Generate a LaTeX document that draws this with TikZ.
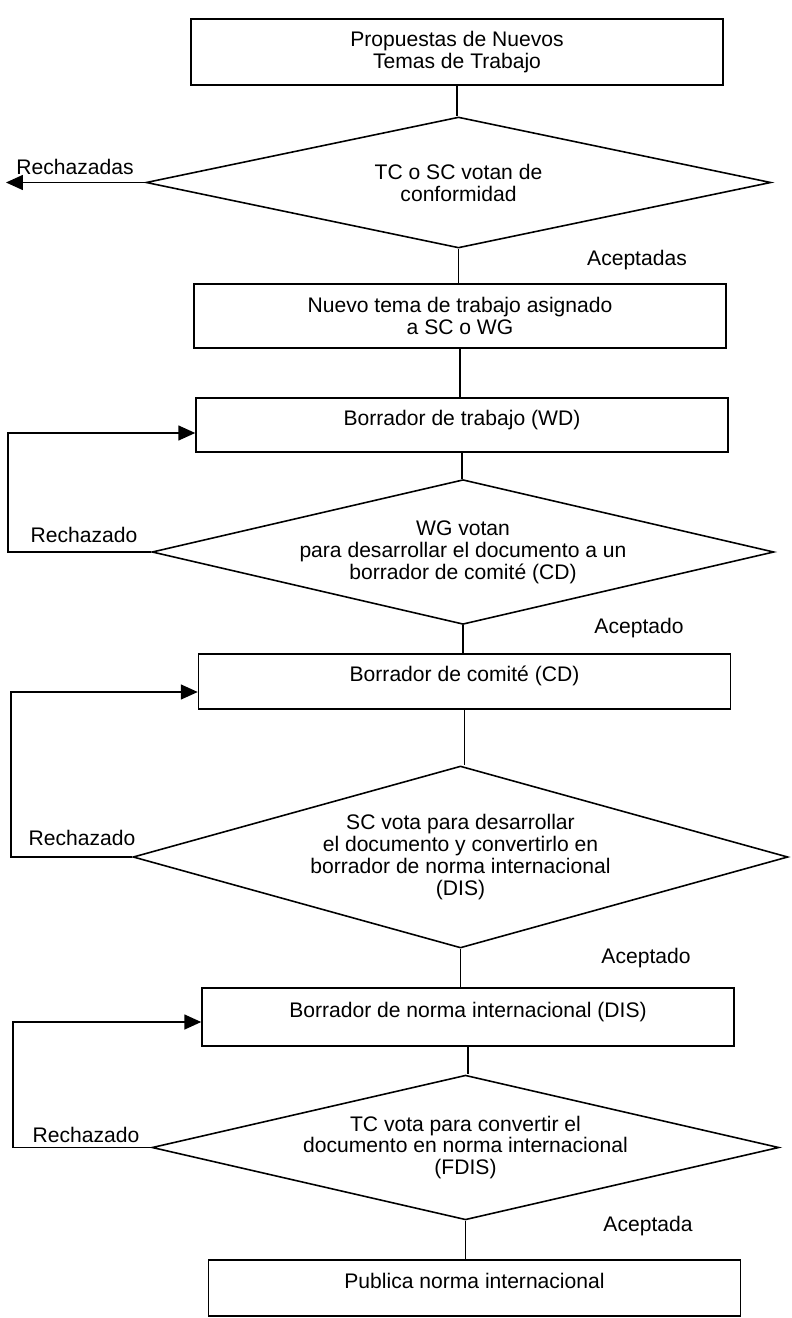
\documentclass[tikz,border=0pt]{standalone}
\usepackage{fontspec}
\setmainfont{Liberation Sans}
\usepackage{tikz}
\usetikzlibrary{shapes.geometric,arrows.meta}

\begin{document}
\begin{tikzpicture}[x=0.02cm,y=-0.02cm,line width=0.9pt,
  every node/.style={font=\fontsize{12}{12.5}\selectfont},
  caja/.style={draw,rectangle,minimum width=10.64cm,inner sep=0pt,align=center},
  alta/.style={text depth=0.3cm},
  rombo/.style={draw,diamond,aspect=4,inner sep=0pt,align=center},
  flecha/.style={-{Triangle[length=0.34cm,width=0.3cm]}}]
\useasboundingbox (0,0) rectangle (791,1318);
\node [caja,minimum height=1.32cm] (prop) at (457,52) {Propuestas de Nuevos\\Temas de Trabajo};
\node [rombo,minimum width=12.5cm,minimum height=2.62cm] (vote1) at (458.5,182.5) {TC o SC votan de\\conformidad};
\node [caja,minimum height=1.28cm] (asig) at (460,316) {Nuevo tema de trabajo asignado\\a SC o WG};
\node [caja,alta,minimum height=1.08cm] (wd) at (462,425) {Borrador de trabajo (WD)};
\node [rombo,minimum width=12.44cm,minimum height=2.78cm] (vote2) at (463,552) {WG votan\\para desarrollar el documento a un\\borrador de comité (CD)};
\node [caja,alta,minimum height=1.1cm] (cd) at (464.5,681.5) {Borrador de comité (CD)};
\node [rombo,minimum width=13.1cm,minimum height=3.64cm] (vote3) at (460.5,857) {SC vota para desarrollar\\el documento y convertirlo en\\borrador de norma internacional\\(DIS)};
\node [caja,alta,minimum height=1.16cm] (dis) at (468,1017) {Borrador de norma internacional (DIS)};
\node [rombo,minimum width=12.54cm,minimum height=2.78cm] (vote4) at (465.5,1147.5) {TC vota para convertir el\\documento en norma internacional\\(FDIS)};
\node [caja,alta,minimum height=1.12cm] (pub) at (474.5,1288) {Publica norma internacional};

\foreach \a/\b in {prop/vote1,vote1/asig,asig/wd,wd/vote2,vote2/cd,cd/vote3,vote3/dis,dis/vote4,vote4/pub}
  {  \draw (\a.south) -- (\a.south |- \b.north);}

\coordinate (rech) at (6,182.5);
\draw [flecha] (vote1.west) -- (rech);

\coordinate (r2) at (8,433);
\coordinate (r3) at (11,692);
\coordinate (r4) at (13,1022);
\foreach \d/\r/\b in {vote2/r2/wd,vote3/r3/cd,vote4/r4/dis}
  {  \draw [flecha] (\d.west) -| (\r) -- (\r -| \b.west);}

\foreach \nom/\txt/\px/\py in {lrech1/Rechazadas/75/167,lacep1/Aceptadas/637/260,
    lrech2/Rechazado/84/535,lacep2/Aceptado/639/628,lrech3/Rechazado/82/838,
    lacep3/Aceptado/646/958,lrech4/Rechazado/86/1135,lacep4/Aceptada/648/1226}
  {  \node (\nom) at (\px,\py) {\txt};}
\end{tikzpicture}
\end{document}
